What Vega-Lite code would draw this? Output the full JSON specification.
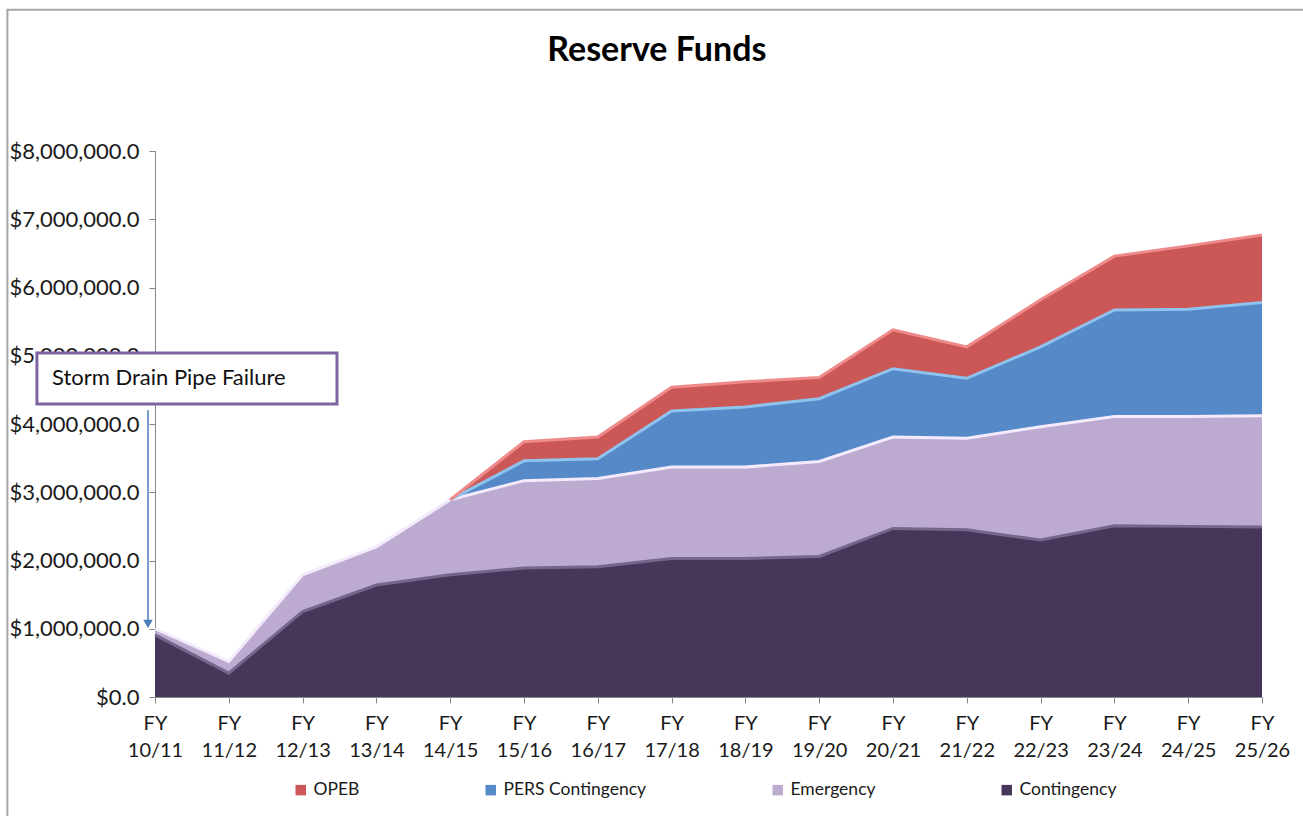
{
  "$schema": "https://vega.github.io/schema/vega-lite/v6.json",
  "width": 1107,
  "height": 546,
  "autosize": "none",
  "padding": {"left": 155, "top": 151, "right": 41, "bottom": 119},
  "background": "white",
  "config": {"view": {"stroke": null}, "font": "Lato"},
  "datasets": {
    "funds": [
      {"i": 0, "year": "10/11", "fund": "Contingency", "rank": 4, "amount": 910000},
      {"i": 1, "year": "11/12", "fund": "Contingency", "rank": 4, "amount": 350000},
      {"i": 2, "year": "12/13", "fund": "Contingency", "rank": 4, "amount": 1250000},
      {"i": 3, "year": "13/14", "fund": "Contingency", "rank": 4, "amount": 1640000},
      {"i": 4, "year": "14/15", "fund": "Contingency", "rank": 4, "amount": 1790000},
      {"i": 5, "year": "15/16", "fund": "Contingency", "rank": 4, "amount": 1890000},
      {"i": 6, "year": "16/17", "fund": "Contingency", "rank": 4, "amount": 1910000},
      {"i": 7, "year": "17/18", "fund": "Contingency", "rank": 4, "amount": 2030000},
      {"i": 8, "year": "18/19", "fund": "Contingency", "rank": 4, "amount": 2030000},
      {"i": 9, "year": "19/20", "fund": "Contingency", "rank": 4, "amount": 2060000},
      {"i": 10, "year": "20/21", "fund": "Contingency", "rank": 4, "amount": 2470000},
      {"i": 11, "year": "21/22", "fund": "Contingency", "rank": 4, "amount": 2450000},
      {"i": 12, "year": "22/23", "fund": "Contingency", "rank": 4, "amount": 2300000},
      {"i": 13, "year": "23/24", "fund": "Contingency", "rank": 4, "amount": 2510000},
      {"i": 14, "year": "24/25", "fund": "Contingency", "rank": 4, "amount": 2500000},
      {"i": 15, "year": "25/26", "fund": "Contingency", "rank": 4, "amount": 2490000},
      {"i": 0, "year": "10/11", "fund": "Emergency", "rank": 3, "amount": 90000},
      {"i": 1, "year": "11/12", "fund": "Emergency", "rank": 3, "amount": 170000},
      {"i": 2, "year": "12/13", "fund": "Emergency", "rank": 3, "amount": 540000},
      {"i": 3, "year": "13/14", "fund": "Emergency", "rank": 3, "amount": 560000},
      {"i": 4, "year": "14/15", "fund": "Emergency", "rank": 3, "amount": 1100000},
      {"i": 5, "year": "15/16", "fund": "Emergency", "rank": 3, "amount": 1280000},
      {"i": 6, "year": "16/17", "fund": "Emergency", "rank": 3, "amount": 1290000},
      {"i": 7, "year": "17/18", "fund": "Emergency", "rank": 3, "amount": 1340000},
      {"i": 8, "year": "18/19", "fund": "Emergency", "rank": 3, "amount": 1340000},
      {"i": 9, "year": "19/20", "fund": "Emergency", "rank": 3, "amount": 1390000},
      {"i": 10, "year": "20/21", "fund": "Emergency", "rank": 3, "amount": 1340000},
      {"i": 11, "year": "21/22", "fund": "Emergency", "rank": 3, "amount": 1340000},
      {"i": 12, "year": "22/23", "fund": "Emergency", "rank": 3, "amount": 1660000},
      {"i": 13, "year": "23/24", "fund": "Emergency", "rank": 3, "amount": 1600000},
      {"i": 14, "year": "24/25", "fund": "Emergency", "rank": 3, "amount": 1610000},
      {"i": 15, "year": "25/26", "fund": "Emergency", "rank": 3, "amount": 1630000},
      {"i": 4, "year": "14/15", "fund": "PERS Contingency", "rank": 2, "amount": 0},
      {"i": 5, "year": "15/16", "fund": "PERS Contingency", "rank": 2, "amount": 290000},
      {"i": 6, "year": "16/17", "fund": "PERS Contingency", "rank": 2, "amount": 290000},
      {"i": 7, "year": "17/18", "fund": "PERS Contingency", "rank": 2, "amount": 820000},
      {"i": 8, "year": "18/19", "fund": "PERS Contingency", "rank": 2, "amount": 880000},
      {"i": 9, "year": "19/20", "fund": "PERS Contingency", "rank": 2, "amount": 920000},
      {"i": 10, "year": "20/21", "fund": "PERS Contingency", "rank": 2, "amount": 1000000},
      {"i": 11, "year": "21/22", "fund": "PERS Contingency", "rank": 2, "amount": 880000},
      {"i": 12, "year": "22/23", "fund": "PERS Contingency", "rank": 2, "amount": 1170000},
      {"i": 13, "year": "23/24", "fund": "PERS Contingency", "rank": 2, "amount": 1560000},
      {"i": 14, "year": "24/25", "fund": "PERS Contingency", "rank": 2, "amount": 1570000},
      {"i": 15, "year": "25/26", "fund": "PERS Contingency", "rank": 2, "amount": 1660000},
      {"i": 4, "year": "14/15", "fund": "OPEB", "rank": 1, "amount": 0},
      {"i": 5, "year": "15/16", "fund": "OPEB", "rank": 1, "amount": 280000},
      {"i": 6, "year": "16/17", "fund": "OPEB", "rank": 1, "amount": 320000},
      {"i": 7, "year": "17/18", "fund": "OPEB", "rank": 1, "amount": 350000},
      {"i": 8, "year": "18/19", "fund": "OPEB", "rank": 1, "amount": 370000},
      {"i": 9, "year": "19/20", "fund": "OPEB", "rank": 1, "amount": 310000},
      {"i": 10, "year": "20/21", "fund": "OPEB", "rank": 1, "amount": 570000},
      {"i": 11, "year": "21/22", "fund": "OPEB", "rank": 1, "amount": 460000},
      {"i": 12, "year": "22/23", "fund": "OPEB", "rank": 1, "amount": 690000},
      {"i": 13, "year": "23/24", "fund": "OPEB", "rank": 1, "amount": 790000},
      {"i": 14, "year": "24/25", "fund": "OPEB", "rank": 1, "amount": 930000},
      {"i": 15, "year": "25/26", "fund": "OPEB", "rank": 1, "amount": 990000}
    ]
  },
  "layer": [
    {
      "data": {"values": [{}]},
      "mark": {"type": "rect", "fill": null, "stroke": "#a6a6a6", "strokeWidth": 2},
      "encoding": {
        "x": {"datum": -2.0, "type": "quantitative", "scale": {"domain": [0, 15], "nice": false, "zero": false}},
        "x2": {"datum": 16.5},
        "y": {"datum": 10070000, "type": "quantitative", "scale": {"domain": [0, 8000000], "nice": false}},
        "y2": {"datum": -3000000}
      }
    },
    {
      "data": {"name": "funds"},
      "mark": {"type": "area", "interpolate": "linear"},
      "encoding": {
        "x": {
          "field": "i", "type": "quantitative",
          "scale": {"domain": [0, 15], "nice": false, "zero": false},
          "axis": {
            "title": null, "grid": false, "values": [0,1,2,3,4,5,6,7,8,9,10,11,12,13,14,15],
            "labelExpr": "['FY', ['10/11','11/12','12/13','13/14','14/15','15/16','16/17','17/18','18/19','19/20','20/21','21/22','22/23','23/24','24/25','25/26'][datum.value]]",
            "labelFontSize": 20, "labelColor": "#1a1a1a", "labelLineHeight": 27, "labelPadding": 10,
            "labelFlush": false, "labelOverlap": false, "labelBaseline": "top",
            "domainColor": "#888888", "tickColor": "#888888", "tickSize": 6
          }
        },
        "y": {
          "field": "amount", "type": "quantitative", "stack": "zero",
          "scale": {"domain": [0, 8000000], "nice": false},
          "axis": {
            "title": null, "values": [0,1000000,2000000,3000000,4000000,5000000,6000000,7000000,8000000],
            "format": "$,.1f", "labelFontSize": 22, "labelColor": "#1a1a1a", "labelPadding": 10,
            "domainColor": "#888888", "tickColor": "#888888", "tickSize": 6,
            "gridColor": "#8c8c8c", "gridWidth": 1
          }
        },
        "color": {
          "field": "fund", "type": "nominal",
          "scale": {"domain": ["Contingency", "Emergency", "PERS Contingency", "OPEB"], "range": ["#46365A", "#BDAAD1", "#5589C7", "#CB5757"]},
          "legend": {
            "title": null, "orient": "none", "direction": "horizontal",
            "values": ["OPEB", "PERS Contingency", "Emergency", "Contingency"],
            "legendX": 137, "legendY": 630, "columnPadding": 122, "padding": 0,
            "symbolType": "square", "symbolSize": 110, "symbolStrokeWidth": 0,
            "labelFontSize": 17.5, "labelColor": "#1a1a1a", "labelOffset": 4
          }
        },
        "order": {"field": "rank", "type": "quantitative", "sort": "descending"}
      }
    },
    {
      "data": {"name": "funds"},
      "transform": [
        {"stack": "amount", "groupby": ["i"], "sort": [{"field": "rank", "order": "descending"}], "as": ["base", "top"]}
      ],
      "mark": {"type": "line", "strokeWidth": 3, "interpolate": "linear"},
      "encoding": {
        "x": {"field": "i", "type": "quantitative"},
        "y": {"field": "top", "type": "quantitative"},
        "stroke": {
          "field": "rank", "type": "nominal",
          "scale": {"domain": [4, 3, 2, 1], "range": ["#75668C", "#F3EAFB", "#8FC3EE", "#EE8A8A"]},
          "legend": null
        }
      }
    },
    {
      "data": {"values": [{}]},
      "mark": {"type": "rect", "fill": "white", "stroke": "#8064A2", "strokeWidth": 3},
      "encoding": {
        "x": {"datum": -1.6, "type": "quantitative"},
        "x2": {"datum": 2.466},
        "y": {"datum": 5040000, "type": "quantitative"},
        "y2": {"datum": 4293000}
      }
    },
    {
      "data": {"values": [{}]},
      "mark": {"type": "text", "text": "Storm Drain Pipe Failure", "align": "left", "baseline": "middle", "fontSize": 22, "color": "#111111"},
      "encoding": {
        "x": {"datum": -1.396, "type": "quantitative"},
        "y": {"datum": 4674000, "type": "quantitative"}
      }
    },
    {
      "data": {"values": [{}]},
      "mark": {"type": "rule", "color": "#4A7EBB", "strokeWidth": 1.5},
      "encoding": {
        "x": {"datum": -0.095, "type": "quantitative"},
        "y": {"datum": 4200000, "type": "quantitative"},
        "y2": {"datum": 1100000}
      }
    },
    {
      "data": {"values": [{}]},
      "mark": {"type": "point", "shape": "triangle-down", "filled": true, "color": "#4A7EBB", "size": 90, "opacity": 1},
      "encoding": {
        "x": {"datum": -0.095, "type": "quantitative"},
        "y": {"datum": 1070000, "type": "quantitative"}
      }
    },
    {
      "data": {"values": [{}]},
      "mark": {"type": "text", "text": "Reserve Funds", "align": "center", "baseline": "alphabetic", "fontSize": 34, "fontWeight": "bold", "color": "#000000"},
      "encoding": {
        "x": {"datum": 6.8, "type": "quantitative"},
        "y": {"datum": 9319000, "type": "quantitative"}
      }
    }
  ]
}
